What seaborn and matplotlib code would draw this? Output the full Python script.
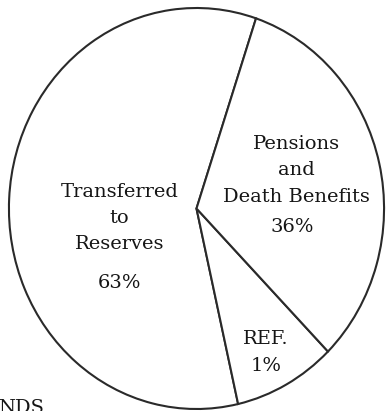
import matplotlib
matplotlib.use("Agg")
import matplotlib.pyplot as plt
import seaborn as sns

# slice shares as drawn in the picture (the scan is not to scale),
# printed percentages kept separately
categories = ["Transferred\nto\nReserves", "REF.", "Pensions\nand\nDeath Benefits"]
slice_sizes = [58.7, 8.8, 32.5]
pct_labels = ["63%", "1%", "36%"]

sns.set_theme(style="white")
plt.rcParams["font.family"] = ["DejaVu Serif"]

fig = plt.figure(figsize=(3.87, 4.11), dpi=100)
ax = fig.add_axes([8 / 387, 1 / 411, 377 / 387, 403 / 411])

ink = "#2a2a2a"
ax.pie(slice_sizes, startangle=71.5, counterclock=True,
       colors=["white"] * len(slice_sizes),
       wedgeprops=dict(edgecolor=ink, linewidth=1.5))
ax.set_aspect("auto")
ax.set_xlim(-1.005, 1.005)
ax.set_ylim(-1.005, 1.005)
ax.axis("off")

fs = 14
txt = "#151515"
# Transferred to Reserves
ax.text(-0.41, -0.047, categories[0], ha="center", va="center",
        fontsize=fs, color=txt, linespacing=1.6)
ax.text(-0.41, -0.37, pct_labels[0], ha="center", va="center",
        fontsize=fs, color=txt)
# Pensions and Death Benefits
ax.text(0.535, 0.19, categories[2], ha="center", va="center",
        fontsize=fs, color=txt, linespacing=1.6)
ax.text(0.51, -0.092, pct_labels[2], ha="center", va="center",
        fontsize=fs, color=txt)
# REF.
ax.text(0.37, -0.653, categories[1], ha="center", va="center",
        fontsize=fs, color=txt)
ax.text(0.37, -0.787, pct_labels[1], ha="center", va="center",
        fontsize=fs, color=txt)

# cut-off caption fragment at the bottom left
fig.text(-0.005, -0.006, "NDS", ha="left", va="baseline",
         fontsize=fs, color=txt)

fig.savefig("out.png", dpi=100)
